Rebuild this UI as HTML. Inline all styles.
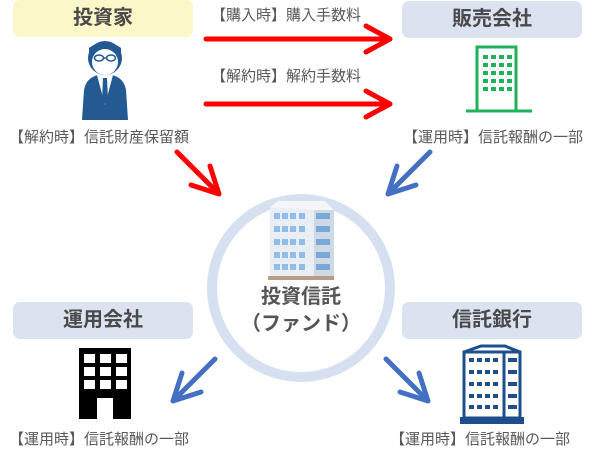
<!DOCTYPE html>
<html><head><meta charset="utf-8"><style>
html,body{margin:0;padding:0;background:#fff;}
body{width:600px;height:450px;position:relative;overflow:hidden;font-family:"Liberation Sans","Noto Sans CJK JP",sans-serif;}
.box{position:absolute;height:37px;border-radius:7px;text-align:center;line-height:37px;font-weight:bold;font-size:20px;color:#4a4a4a;font-family:"Liberation Sans","Noto Sans CJK JP",sans-serif;}
.t{position:absolute;font-size:15px;color:#595959;white-space:nowrap;font-family:"Liberation Sans","Noto Sans CJK JP",sans-serif;}
svg{position:absolute;left:0;top:0;}
</style></head><body>
<div class="box" style="left:13px;top:0;width:180px;background:#fcf7c9;">投資家</div>
<div class="box" style="left:402px;top:1px;width:180px;background:#dbe3f1;">販売会社</div>
<div class="box" style="left:13px;top:302px;width:180px;background:#dbe3f1;">運用会社</div>
<div class="box" style="left:402px;top:302px;width:180px;background:#dbe3f1;">信託銀行</div>

<svg width="600" height="450" viewBox="0 0 600 450">
<circle cx="301" cy="288" r="89" fill="none" stroke="#d6e0f1" stroke-width="10"/>
<g stroke="#f00" stroke-width="5" fill="none" stroke-linecap="round" stroke-linejoin="round">
<line x1="206" y1="39" x2="389" y2="39"/><polyline points="366,26 390,39 366,52"/>
<line x1="206" y1="104" x2="389" y2="104"/><polyline points="366,91 390,104 366,117"/>
<line x1="177" y1="152" x2="218" y2="193"/><polyline points="191,185 219,194 210,166"/>
</g>
<g stroke="#4470c4" stroke-width="5" fill="none" stroke-linecap="round" stroke-linejoin="round">
<line x1="430" y1="152" x2="389" y2="193"/><polyline points="416,185 388,194 397,166"/>
<line x1="215" y1="359" x2="174" y2="400"/><polyline points="201,392 173,401 182,373"/>
<line x1="386" y1="359" x2="427" y2="400"/><polyline points="400,392 428,401 419,373"/>
</g>
<g>
<path d="M82 120 L84 90 Q86 78 98 75 L112 75 Q124 78 126 90 L128 120 Z" fill="#235a92"/>
<path d="M97 75 L105 105 L113 75 Z" fill="#fff"/>
<path d="M103 78 L107 78 L108 100 L105 104 L102 100 Z" fill="#235a92"/>
<circle cx="105" cy="58" r="17" fill="#235a92"/>
<ellipse cx="105" cy="62" rx="13" ry="13" fill="#fff"/>
<path d="M89 55 Q105 38 121 55 L121 48 Q105 36 89 48 Z" fill="#235a92"/>
<g fill="none" stroke="#235a92" stroke-width="1.5"><ellipse cx="99" cy="58" rx="4.5" ry="3"/><ellipse cx="111" cy="58" rx="4.5" ry="3"/><line x1="103.5" y1="58" x2="106.5" y2="58"/></g>
</g>
<g stroke="#1fb25a" stroke-width="3" fill="none">
<rect x="477" y="47" width="39" height="64"/>
<line x1="466" y1="111" x2="532" y2="111"/>
</g>
<g fill="#1fb25a">
<rect x="483" y="55" width="5" height="4"/><rect x="491" y="55" width="5" height="4"/><rect x="499" y="55" width="5" height="4"/><rect x="507" y="55" width="5" height="4"/>
<rect x="483" y="63" width="5" height="4"/><rect x="491" y="63" width="5" height="4"/><rect x="499" y="63" width="5" height="4"/><rect x="507" y="63" width="5" height="4"/>
<rect x="483" y="71" width="5" height="4"/><rect x="491" y="71" width="5" height="4"/><rect x="499" y="71" width="5" height="4"/><rect x="507" y="71" width="5" height="4"/>
<rect x="483" y="79" width="5" height="4"/><rect x="491" y="79" width="5" height="4"/><rect x="499" y="79" width="5" height="4"/><rect x="507" y="79" width="5" height="4"/>
<rect x="483" y="87" width="5" height="4"/><rect x="491" y="87" width="5" height="4"/><rect x="499" y="87" width="5" height="4"/><rect x="507" y="87" width="5" height="4"/>
</g>
<g>
<rect x="270" y="207" width="50" height="72" fill="#e9eef4"/>
<rect x="314" y="210" width="20" height="69" fill="#cfd9e4"/>
<path d="M270 207 L278 201 L325 201 L334 210 L314 210 Z" fill="#f4f6f9"/>
<g fill="#8fbde6">
<rect x="274" y="213" width="6" height="6"/><rect x="282" y="213" width="6" height="6"/><rect x="290" y="213" width="6" height="6"/><rect x="299" y="213" width="6" height="6"/><rect x="316" y="213" width="14" height="6" fill="#7aa8d8"/>
<rect x="274" y="226" width="6" height="6"/><rect x="282" y="226" width="6" height="6"/><rect x="290" y="226" width="6" height="6"/><rect x="299" y="226" width="6" height="6"/><rect x="316" y="226" width="14" height="6" fill="#7aa8d8"/>
<rect x="274" y="239" width="6" height="6"/><rect x="282" y="239" width="6" height="6"/><rect x="290" y="239" width="6" height="6"/><rect x="299" y="239" width="6" height="6"/><rect x="316" y="239" width="14" height="6" fill="#7aa8d8"/>
<rect x="274" y="252" width="6" height="6"/><rect x="282" y="252" width="6" height="6"/><rect x="290" y="252" width="6" height="6"/><rect x="299" y="252" width="6" height="6"/><rect x="316" y="252" width="14" height="6" fill="#7aa8d8"/>
<rect x="274" y="264" width="6" height="6"/><rect x="282" y="264" width="6" height="6"/><rect x="290" y="264" width="6" height="6"/><rect x="299" y="264" width="6" height="6"/><rect x="316" y="264" width="14" height="6" fill="#7aa8d8"/>
</g>
<rect x="268" y="276" width="66" height="4" fill="#b59e85"/>
</g>
<rect x="79" y="348" width="52" height="71" fill="#000"/>
<g fill="#fff">
<rect x="84" y="354" width="11" height="9"/><rect x="100" y="354" width="11" height="9"/><rect x="116" y="354" width="11" height="9"/>
<rect x="84" y="367" width="11" height="9"/><rect x="100" y="367" width="11" height="9"/><rect x="116" y="367" width="11" height="9"/>
<rect x="84" y="380" width="11" height="9"/><rect x="100" y="380" width="11" height="9"/><rect x="116" y="380" width="11" height="9"/>
<rect x="97" y="398" width="16" height="21"/>
</g>
<g>
<path d="M464 352 L481 346 L505 346 L520 352 Z" fill="none" stroke="#1e4f8c" stroke-width="3"/>
<rect x="464" y="352" width="56" height="66" fill="none" stroke="#1e4f8c" stroke-width="3"/>
<line x1="504" y1="352" x2="504" y2="418" stroke="#1e4f8c" stroke-width="3"/>
<g fill="#1e4f8c">
<rect x="469" y="358" width="5" height="4"/><rect x="477" y="358" width="5" height="4"/><rect x="485" y="358" width="5" height="4"/><rect x="493" y="358" width="5" height="4"/><rect x="508" y="358" width="9" height="4"/>
<rect x="469" y="370" width="5" height="4"/><rect x="477" y="370" width="5" height="4"/><rect x="485" y="370" width="5" height="4"/><rect x="493" y="370" width="5" height="4"/><rect x="508" y="370" width="9" height="4"/>
<rect x="469" y="382" width="5" height="4"/><rect x="477" y="382" width="5" height="4"/><rect x="485" y="382" width="5" height="4"/><rect x="493" y="382" width="5" height="4"/><rect x="508" y="382" width="9" height="4"/>
<rect x="469" y="394" width="5" height="4"/><rect x="477" y="394" width="5" height="4"/><rect x="485" y="394" width="5" height="4"/><rect x="493" y="394" width="5" height="4"/><rect x="508" y="394" width="9" height="4"/>
<rect x="469" y="405" width="5" height="4"/><rect x="477" y="405" width="5" height="4"/><rect x="485" y="405" width="5" height="4"/><rect x="493" y="405" width="5" height="4"/><rect x="508" y="405" width="9" height="4"/>
<rect x="460" y="417" width="64" height="7"/>
</g>
</g>
</svg>

<div class="t" style="left:211px;top:4px;">【購入時】購入手数料</div>
<div class="t" style="left:211px;top:65px;">【解約時】解約手数料</div>
<div class="t" style="left:9px;top:126px;">【解約時】信託財産保留額</div>
<div class="t" style="left:403px;top:126px;">【運用時】信託報酬の一部</div>
<div class="t" style="left:9px;top:428px;">【運用時】信託報酬の一部</div>
<div class="t" style="left:390px;top:428px;">【運用時】信託報酬の一部</div>
<div style="position:absolute;left:200px;top:284px;width:202px;text-align:center;font-size:20px;font-weight:bold;color:#555;line-height:27px;">投資信託<br>（ファンド）</div>
</body></html>
